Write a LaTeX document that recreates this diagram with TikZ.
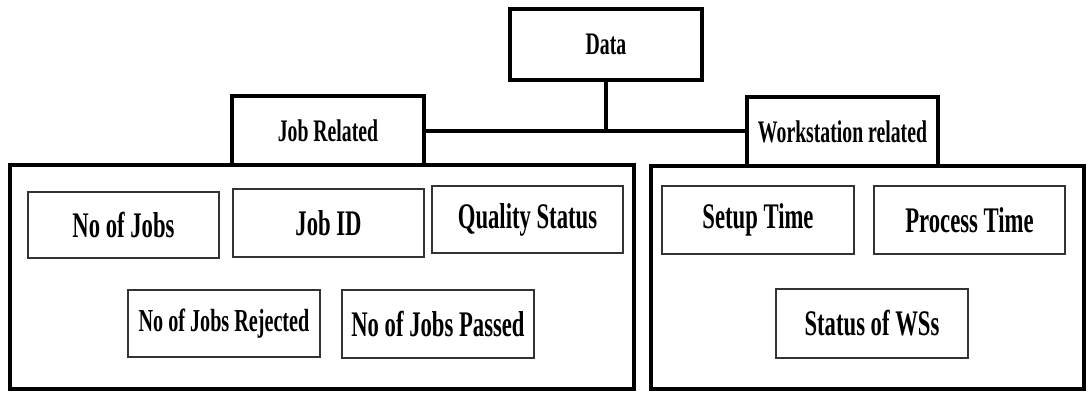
\documentclass[tikz,border=0pt]{standalone}
\usepackage{fontspec}
\setmainfont{Liberation Serif}[FakeStretch=0.63]
\begin{document}
\begin{tikzpicture}[x=0.75pt,y=-0.75pt,
  heavybox/.style={draw=black,line width=3pt,rectangle,inner sep=0pt,fill=white},
  headbox/.style={heavybox,font=\bfseries\fontsize{23.5}{25}\selectfont},
  itembox/.style={draw=black!80,line width=1.1pt,rectangle,inner sep=0pt,
    minimum width=191*0.75pt,minimum height=67*0.75pt,
    font=\bfseries\fontsize{27}{29}\selectfont},
  link/.style={line width=3pt}]
\useasboundingbox (0,0) rectangle (1088,394);

% group frames
\node[heavybox,minimum width=624*0.75pt,minimum height=224*0.75pt] (jobframe) at (322,277) {};
\node[heavybox,minimum width=433*0.75pt,minimum height=223*0.75pt] (wsframe) at (867.5,277.5) {};

% headings
\node[headbox,minimum width=192*0.75pt,minimum height=71*0.75pt] (data) at (606,44.5) {Data};
\node[headbox,minimum width=192*0.75pt,minimum height=69*0.75pt] (jobrel) at (328,130.5) {Job Related};
\node[headbox,minimum width=191*0.75pt,minimum height=69*0.75pt] (wsrel) at (842.5,131.5) {Workstation related};

% connectors
\draw[link] (data.south) -- (data.south |- jobrel.east);
\draw[link] (jobrel.east) -- (jobrel.east -| wsrel.west);

% job related items
\node[itembox,minimum height=66*0.75pt] (nojobs) at (123.5,225) {No of Jobs};
\node[itembox,minimum height=68*0.75pt] (jobid) at (328.5,223) {Job ID};
\node[itembox] (quality) at (527.5,219.5) {Quality Status};
\node[itembox,minimum width=192*0.75pt,font=\bfseries\fontsize{24}{26}\selectfont] (rejected) at (224,323.5) {No of Jobs Rejected};
\node[itembox,minimum width=192*0.75pt,minimum height=68*0.75pt] (passed) at (438,324) {No of Jobs Passed};

% workstation related items
\node[itembox,minimum width=192*0.75pt,minimum height=68*0.75pt] (setup) at (758,220) {Setup Time};
\node[itembox,minimum height=68*0.75pt] (process) at (969.5,220) {Process Time};
\node[itembox,minimum width=192*0.75pt,minimum height=69*0.75pt] (status) at (872,323.5) {Status of WSs};
\end{tikzpicture}
\end{document}
